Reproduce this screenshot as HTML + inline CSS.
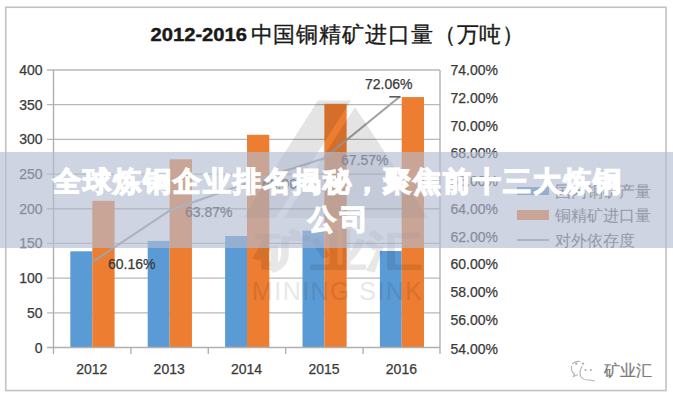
<!DOCTYPE html>
<html><head><meta charset="utf-8">
<style>
html,body{margin:0;padding:0;background:#fff;}
body{width:673px;height:400px;overflow:hidden;position:relative;font-family:"Liberation Sans",sans-serif;}
svg{position:absolute;left:0;top:0;}
.banner{position:absolute;left:0;top:152px;width:673px;height:96px;background:rgba(178,188,210,0.64);}
.btxt{position:absolute;left:0;top:9.5px;-webkit-text-stroke:1.3px #fff;width:673px;text-align:center;color:#fff;font-weight:bold;font-size:28px;letter-spacing:2px;text-indent:2px;line-height:39px;}
</style></head>
<body>
<svg width="673" height="400" viewBox="0 0 673 400">
  <rect x="5.75" y="7.25" width="660.3" height="383.3" fill="none" stroke="#c2c2c2" stroke-width="1.6"/>
  <!-- title -->
  <text x="150.5" y="40.5" font-family="Liberation Sans, sans-serif" font-size="17.5" font-weight="bold" fill="#1a1a1a" stroke="#1a1a1a" stroke-width="0.4" textLength="96.5" lengthAdjust="spacingAndGlyphs">2012-2016</text>
  <text x="250.5" y="42" font-family="Liberation Sans, sans-serif" font-size="21.5" letter-spacing="0.9" fill="#1a1a1a" stroke="#1a1a1a" stroke-width="0.35">中国铜精矿进口量（万吨）</text>


  <!-- gridlines -->
  <g stroke="#b8b8b8" stroke-width="1.3">
    <line x1="47" y1="70" x2="440" y2="70"/>
    <line x1="47" y1="104.69" x2="440" y2="104.69"/>
    <line x1="47" y1="139.38" x2="440" y2="139.38"/>
    <line x1="47" y1="174.06" x2="440" y2="174.06"/>
    <line x1="47" y1="208.75" x2="440" y2="208.75"/>
    <line x1="47" y1="243.44" x2="440" y2="243.44"/>
    <line x1="47" y1="278.13" x2="440" y2="278.13"/>
    <line x1="47" y1="312.81" x2="440" y2="312.81"/>
  </g>
  <!-- bars -->
  <g fill="#5b9bd5">
    <rect x="70.30" y="251.3" width="22.00" height="96.2"/>
    <rect x="147.70" y="240.9" width="21.95" height="106.6"/>
    <rect x="225.10" y="236" width="21.90" height="111.5"/>
    <rect x="302.50" y="230.7" width="21.85" height="116.8"/>
    <rect x="379.90" y="251" width="21.80" height="96.5"/>
  </g>
  <g fill="#ed7d31">
    <rect x="92.30" y="200.8" width="22.3" height="146.7"/>
    <rect x="169.65" y="159.3" width="22.3" height="188.2"/>
    <rect x="247.00" y="134.8" width="22.3" height="212.7"/>
    <rect x="324.35" y="103.8" width="22.3" height="243.7"/>
    <rect x="401.70" y="97.1" width="22.3" height="250.4"/>
  </g>
  <!-- axes -->
  <g stroke="#b0b0b0" stroke-width="1.4">
    <line x1="53.5" y1="70" x2="53.5" y2="354"/>
    <line x1="440" y1="70" x2="440" y2="354"/>
    <line x1="47" y1="347.5" x2="440" y2="347.5"/>
    <line x1="130.9" y1="347.5" x2="130.9" y2="354"/>
    <line x1="208.3" y1="347.5" x2="208.3" y2="354"/>
    <line x1="285.7" y1="347.5" x2="285.7" y2="354"/>
    <line x1="363.1" y1="347.5" x2="363.1" y2="354"/>
  </g>
  <!-- line series -->
  <polyline points="92.3,262 169.6,210.6 247,183 323.8,158.5 400,96.5" fill="none" stroke="#a2a2a2" stroke-width="2.2" stroke-linejoin="round"/>
  <line x1="389.3" y1="96.8" x2="400.5" y2="96.8" stroke="#5a5a5a" stroke-width="1.6"/>

  <!-- axis labels -->
  <g font-family="Liberation Sans, sans-serif" font-size="14" fill="#3a3a3a" stroke="#3a3a3a" stroke-width="0.25" text-anchor="end">
    <text x="42.5" y="75">400</text>
    <text x="42.5" y="109.7">350</text>
    <text x="42.5" y="144.4">300</text>
    <text x="42.5" y="179.1">250</text>
    <text x="42.5" y="213.8">200</text>
    <text x="42.5" y="248.4">150</text>
    <text x="42.5" y="283.1">100</text>
    <text x="42.5" y="317.8">50</text>
    <text x="42.5" y="352.5">0</text>
  </g>
  <g font-family="Liberation Sans, sans-serif" font-size="14" fill="#3a3a3a" stroke="#3a3a3a" stroke-width="0.25">
    <text x="450.5" y="75">74.00%</text>
    <text x="450.5" y="102.8">72.00%</text>
    <text x="450.5" y="130.5">70.00%</text>
    <text x="450.5" y="158.3">68.00%</text>
    <text x="450.5" y="186">66.00%</text>
    <text x="450.5" y="213.8">64.00%</text>
    <text x="450.5" y="241.5">62.00%</text>
    <text x="450.5" y="269.3">60.00%</text>
    <text x="450.5" y="297">58.00%</text>
    <text x="450.5" y="324.8">56.00%</text>
    <text x="450.5" y="353.5">54.00%</text>
  </g>
  <g font-family="Liberation Sans, sans-serif" font-size="14" fill="#3a3a3a" stroke="#3a3a3a" stroke-width="0.25" text-anchor="middle">
    <text x="91.8" y="374">2012</text>
    <text x="169.2" y="374">2013</text>
    <text x="246.6" y="374">2014</text>
    <text x="324" y="374">2015</text>
    <text x="401.4" y="374">2016</text>
  </g>
  <!-- data labels -->
  <g font-family="Liberation Sans, sans-serif" font-size="14" fill="#3a3a3a" stroke="#3a3a3a" stroke-width="0.25">
    <text x="108" y="268.5">60.16%</text>
    <text x="185" y="216.5">63.87%</text>
    <text x="262" y="188.5">65.96%</text>
    <text x="341" y="165">67.57%</text>
    <text x="365" y="89">72.06%</text>
  </g>
  <!-- legend -->
  <rect x="517" y="187" width="32" height="8" fill="#5b9bd5"/>
  <rect x="517" y="210" width="32" height="10" fill="#ed7d31"/>
  <line x1="517" y1="240" x2="549" y2="240" stroke="#a5a5a5" stroke-width="2"/>
  <g font-family="Liberation Sans, sans-serif" font-size="16" fill="#595959">
    <text x="555" y="197">国内铜矿产量</text>
    <text x="555" y="221">铜精矿进口量</text>
    <text x="555" y="245.5">对外依存度</text>
  </g>

  <!-- watermark -->
  <g opacity="0.1" fill="#000">
    <polygon points="318,100.5 351,100.5 276,218 243,218"/>
    <polygon points="355,107 428,218 284,218"/>
  </g>
  <g opacity="0.09" fill="#000" stroke="#000" font-family="Liberation Sans, sans-serif">
    <text x="255" y="266" font-size="43" stroke-width="3" stroke-linejoin="round" textLength="167" lengthAdjust="spacingAndGlyphs">矿业汇</text>
    <text x="252" y="299.5" font-size="25" stroke-width="0" textLength="170">MINING SINK</text>
  </g>

  <!-- footer wechat logo -->
  <g stroke="#b4b4b4" fill="none" stroke-width="1.1" stroke-linecap="round">
    <path d="M571.5,366 Q571,372 574.5,374 L573.5,376.5 L577.5,374.8"/>
    <path d="M582,366.5 Q578.5,372 581,377 Q584,380.5 590,380 L594.5,381"/>
    <path d="M572.5,363.5 Q576,361 580,361.5"/>
  </g>
  <g fill="#b0b0b0">
    <circle cx="576.3" cy="363.6" r="1.2"/>
    <circle cx="583" cy="363.6" r="1.2"/>
    <circle cx="585.5" cy="370" r="1.1"/>
    <circle cx="591" cy="370" r="1.1"/>
  </g>
  <text x="604" y="376" font-family="Liberation Sans, sans-serif" font-size="16" fill="#7a7a7a" stroke="#7a7a7a" stroke-width="0.25">矿业汇</text>
</svg>
<div class="banner"><div class="btxt">全球炼铜企业排名揭秘，聚焦前十三大炼铜<br><span style="position:relative;left:3px;top:-1px;letter-spacing:4px;">公司</span></div></div>
</body></html>
